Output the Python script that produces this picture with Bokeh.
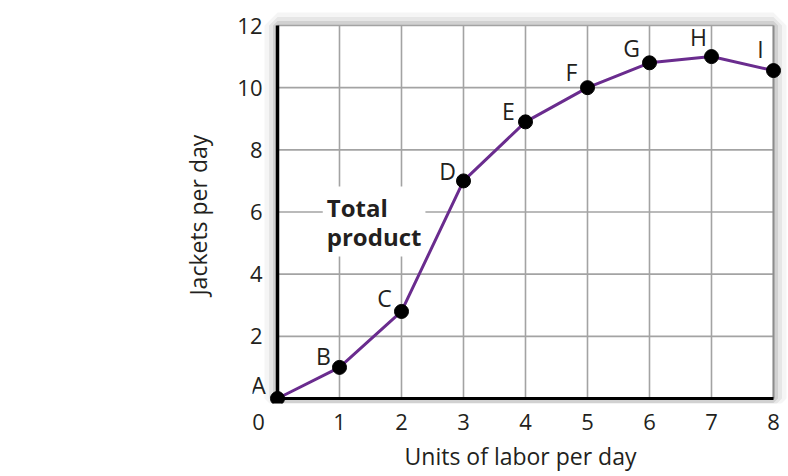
from bokeh.plotting import figure
from bokeh.models import Range1d, FixedTicker, Label, LabelSet, ColumnDataSource
from bokeh.core.properties import value
from bokeh.embed import file_html
from bokeh.resources import INLINE

# ---------------- data ----------------
labor = [0, 1, 2, 3, 4, 5, 6, 7, 8]
jackets = [0, 1.0, 2.8, 7.0, 8.9, 10.0, 10.8, 11.0, 10.55]
point_names = ["A", "B", "C", "D", "E", "F", "G", "H", "I"]
x_ticks = [0, 1, 2, 3, 4, 5, 6, 7, 8]
y_ticks = [2, 4, 6, 8, 10, 12]
x_title = "Units of labor per day"
y_title = "Jackets per day"
curve_label = "Total\nproduct"

# ---------------- style ----------------
FONT = "Open Sans"
TICK_FS = "22px"
TITLE_FS = "23px"
NAME_FS = "23px"
TXT = "#231f20"
PURPLE = "#6a2c8e"
GRID = "#a3a3a3"
name_dx = [-19, -16, -17, -16, -17, -16, -18, -13, -13]
name_dy = [14, 11, 13, 10, 11, 16, 15, 20, 22]
FIG = "\u2007"

W, H = 788, 476
X0_PX, UX = 277, 62.0        # px of x=0, px per unit
Y0_PX, UY = 398, 31.083      # px of y=0, px per unit
FL, FR, FT, FB = 252, 788, 0, 403  # frame edges in px

x_start = -(X0_PX - FL) / UX
x_end = (FR - X0_PX) / UX
y_end = (Y0_PX - FT) / UY
y_start = -(FB - Y0_PX) / UY

p = figure(width=W, height=H, output_backend="svg", toolbar_location=None,
           x_range=Range1d(x_start, x_end), y_range=Range1d(y_start, y_end),
           min_border_left=FL, min_border_right=W - FR,
           min_border_top=FT, min_border_bottom=H - FB)
p.outline_line_color = None
p.background_fill_color = "white"
p.border_fill_color = "white"
p.xgrid.visible = False
p.ygrid.visible = False

xmax = x_ticks[-1]
ymax = y_ticks[-1]

# soft shadow around the box
for w, a in [(26, 0.04), (17, 0.06), (9, 0.09)]:
    p.quad(left=[0], right=[xmax], bottom=[0], top=[ymax], fill_alpha=0,
           line_color="black", line_alpha=a, line_width=w)
p.quad(left=[0], right=[xmax], bottom=[0], top=[ymax], fill_color="white",
       line_color=None)

# grid
p.segment(x0=x_ticks, y0=[0] * len(x_ticks), x1=x_ticks, y1=[ymax] * len(x_ticks),
          line_color=GRID, line_width=1.6)
p.segment(x0=[0] * len(y_ticks), y0=y_ticks, x1=[xmax] * len(y_ticks), y1=y_ticks,
          line_color=GRID, line_width=1.6)
p.segment(x0=[xmax], y0=[0], x1=[xmax], y1=[ymax], line_color="#8c8c8c", line_width=1.8)

# axis lines through the origin
p.segment(x0=[0], y0=[0], x1=[0], y1=[ymax], line_color="black", line_width=3.5)
p.segment(x0=[0], y0=[0], x1=[xmax], y1=[0], line_color="black", line_width=3)

# total product curve
p.line(labor, jackets, line_color=PURPLE, line_width=3, line_join="round")
p.scatter(labor, jackets, size=14, color="black")

# axes (lines hidden; labels only)
for ax, ticks in [(p.xaxis[0], x_ticks), (p.yaxis[0], y_ticks)]:
    ax.ticker = FixedTicker(ticks=ticks)
    ax.axis_line_color = None
    ax.major_tick_line_color = None
    ax.minor_tick_line_color = None
    ax.major_tick_out = 0
    ax.major_tick_in = 0
    ax.minor_tick_out = 0
    ax.minor_tick_in = 0
    ax.major_label_text_font = FONT
    ax.major_label_text_font_size = TICK_FS
    ax.major_label_text_color = TXT
    ax.axis_label_text_font = FONT
    ax.axis_label_text_font_size = TITLE_FS
    ax.axis_label_text_font_style = "normal"
    ax.axis_label_text_color = TXT
p.xaxis[0].major_label_overrides = {0: "0" + FIG * 3}
p.xaxis[0].major_label_standoff = 2
p.yaxis[0].major_label_standoff = -10
p.xaxis[0].axis_label = x_title
p.yaxis[0].axis_label = y_title + FIG * 2
p.xaxis[0].axis_label_standoff = 1
p.yaxis[0].axis_label_standoff = 20

# point letters
src = ColumnDataSource(dict(x=labor, y=jackets, name=point_names, dx=name_dx, dy=name_dy))
p.add_layout(LabelSet(x="x", y="y", text="name", source=src, x_offset="dx", y_offset="dy",
                      text_font=value(FONT), text_font_size=value(NAME_FS), text_color=TXT,
                      text_align="center", text_baseline="middle"))

# curve label
p.add_layout(Label(x=0.73, y=6.82, text=curve_label, text_font=FONT, text_font_size="24px",
                   text_font_style="bold", text_color=TXT, text_align="left",
                   text_baseline="top", text_line_height=0.88,
                   background_fill_color="white", padding=4))

open("out.html", "w").write(file_html(p, INLINE))
